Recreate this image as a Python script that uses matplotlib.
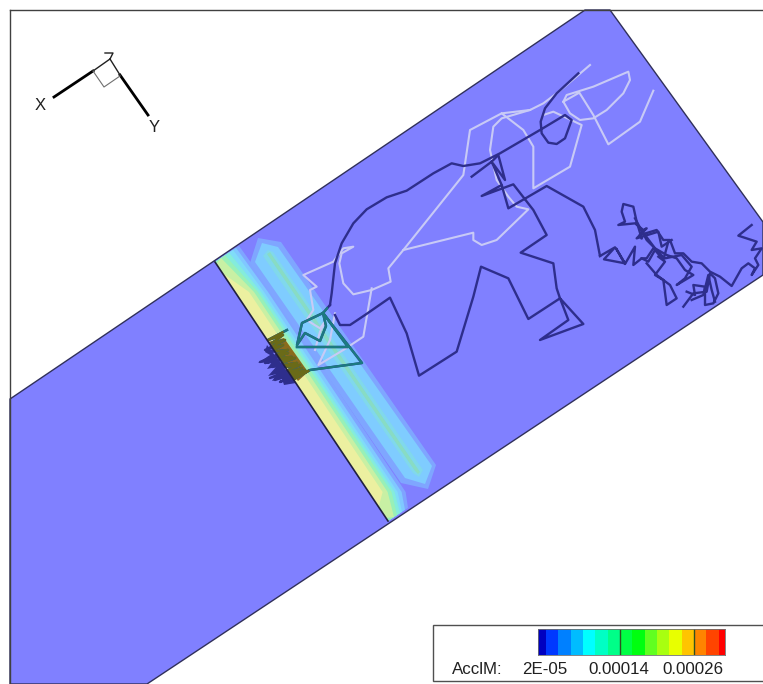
import numpy as np
import matplotlib
matplotlib.use('Agg')
import matplotlib.pyplot as plt
from matplotlib.colors import ListedColormap, BoundaryNorm
from matplotlib.patches import Polygon

# all traced shapes are in picture pixels (y down)
plate = [(10,399),(585,10),(610,10),(763,222),(763,275),(147,684),(10,684)]

# colour bands next to the black cut line
band_colors = ['#7fa4ff','#80c8ff','#80dcf8','#84ecdc','#98f0b8','#c8f0a4','#ecf0a0']
band_mid = [37,33,29,26,23,19,14]
band_top = [24,21,18,14,10,6,0]
band_bot = [20,17,14,12,9,6,0]
band_ys = [262,262,262,262,262,264,273]
band_ye = [521,521,521,521,521,518,507]

hex_outer = [(250,263),(258,238),(281,242),(436,465),(428,489),(401,483)]
hex_inner = [(255,262),(262,243),(278,247),(432,466),(425,484),(405,478)]
hex_core = [(263,256),(268,250),(273,252),(423,470),(419,477),(413,473)]
hex_mid = [(267,254),(270,252),(272,255),(420,472),(418,474),(415,471)]

brown = [(268,342),(284,338),(308,372),(298,381)]
blob = [(267,345),(265,352),(270,355),(258,363),(272,362),(267,369),(276,367),(268,376),(277,374),(272,381),(282,379),(284,385),(296,383)]

# dark trajectory, crop coordinates of the 3x zooms
dark_a = [(835,70),(770,130),(735,175),(722,215),(725,250),(745,278),(770,282),(795,265),(815,210),(795,195),(720,240),(660,275),(600,310),(540,340),(490,348),(455,340),(400,370),(320,422),(260,442),(200,478),(160,520),(125,580),(105,640),(95,730),(90,765)]
dark_b = [(105,795),(120,825),(150,825),(195,795),(270,743),(320,850),(357,977),(470,905),(520,740),(543,650),(625,685),(685,807),(780,745),(805,810),(720,870),(850,822),(780,745),(770,715),(760,640),(662,608),(740,555),(700,480),(640,403),(545,438),(605,405),(625,475),(740,408),(850,470),(885,540),(900,618)]
dark_c = [(515,380),(575,335),(595,315),(615,390),(575,335),(605,405)]
# in pixels, around the cut
dark_d = [(330,305),(323,313),(302,323),(297,345),(305,333),(320,341),(326,326),(323,313),(348,347),(297,347)]
dark_e = [(323,313),(362,363),(310,370),(287,383),(308,371),(280,382),(305,370),(275,380),(302,368),(270,378),(300,365),(277,368),(297,363),(272,367),(295,358),(265,363),(292,357),(268,358),(288,353),(260,362),(288,350),(270,352),(283,345),(265,350),(285,340),(272,343),(283,335),(268,340),(287,330)]

# right hand cluster, crop at (600,190)
dark_f = [(0,198),(45,172),(12,208),(75,220),(48,175),(75,222),(105,170),(100,225),(125,205),(145,215),(165,180),(190,210),(205,155)]
dark_g = [(125,145),(110,95),(100,50),(70,42),(65,65),(75,95),(55,105),(105,100),(130,120),(140,115),(110,145),(175,125),(185,170),(215,150)]
dark_h = [(105,85),(140,150),(180,190)]
# crop at (640,225)
dark_k = [(0,30),(50,15),(70,45),(90,45),(105,85),(130,85),(155,110),(185,115),(210,140),(240,155),(275,183),(305,130),(325,115),(345,130),(335,150),(355,120),(345,100),(365,70),(335,75),(350,50),(295,32),(335,0)]
dark_l = [(5,100),(20,100),(40,70),(75,100),(125,90),(155,125),(135,160),(110,180),(160,150),(135,135),(110,100),(80,90),(45,70),(0,10)]
dark_m = [(20,115),(50,150),(70,165),(80,240),(110,220),(90,180),(70,165),(45,150),(75,110),(55,95)]
dark_n = [(130,245),(160,205),(200,200),(210,145),(225,160),(235,205),(220,235),(195,240),(195,190),(205,150),(215,195),(225,230)]
dark_o = [(140,200),(165,210),(160,180),(195,185),(190,210),(155,225)]

# pale trajectory
light_a = [(1060,122),(1020,215),(925,283),(880,195),(838,128),(790,155),(810,190),(840,210),(880,205),(920,180),(970,130),(990,90),(985,65),(880,110),(800,135),(790,155)]
light_b = [(870,45),(800,105),(770,130),(730,160),(690,180),(605,190),(510,240),(490,375),(310,600),(265,655),(272,695),(215,720),(160,733),(130,700),(118,640),(125,610),(160,590),(130,595),(100,635),(10,675),(50,710),(30,720),(40,780),(20,810),(60,835),(75,815),(60,845),(45,900)]
light_c = [(605,190),(670,240),(700,290),(700,415),(810,350),(845,225),(760,185),(730,195)]
light_d = [(690,180),(605,205),(580,230),(570,300),(590,390),(625,440),(650,470),(685,478),(590,570),(545,585),(520,570),(520,548),(310,600)]
light_e = [(215,715),(190,860),(130,900),(55,945),(90,870),(105,790)]

tri_x_thick = [(54,97),(93,71)]
tri_x_thin = [(93,71),(110,59)]
tri_y_thin = [(110,59),(120,75)]
tri_y_thick = [(120,75),(148,115)]
tri_box = [(93,71),(104,87),(120,76)]
tri_z = [(105,53),(113,53),(110,59)]

levels = [0.000007,0.00002,0.00004,0.00006,0.00008,0.0001,0.00012,0.00014,0.00016,0.00018,0.0002,0.00022,0.00024,0.00026,0.00028,0.0003,0.00031]
level_colors = ['#0000c0','#0038ff','#0080ff','#00bcff','#00ffff','#00ffc4','#00ff88','#00ff44','#00ff10','#60ff20','#a8ff10','#e8ff00','#ffc400','#ff8400','#ff4400','#ff0000']
marked = [0.00014,0.00026]


def crop(pts, x0, y0):
    return [(x0+x/3, y0+y/3) for x, y in pts]


def path(ax, pts, color, lw=1.7, clip=None):
    xs, ys = zip(*pts)
    ln, = ax.plot(xs, ys, color=color, lw=lw, solid_joinstyle='round', zorder=5)
    if clip is not None:
        ln.set_clip_path(clip)
        ln.set_zorder(6)
    return ln


def band_poly(i):
    # right side of a band, closed along the cut line
    ax0, ay0, bx0, by0 = 215, 262, 388, 521
    def on_line(y):
        return ax0+(y-ay0)*(bx0-ax0)/(by0-ay0), y
    if band_top[i] > 0:
        top = (ax0+band_top[i], ay0-0.676*band_top[i])
        bot = (bx0+band_bot[i], by0-0.656*band_bot[i])
    else:
        top = on_line(band_ys[i])
        bot = on_line(band_ye[i])
    sx, sy = on_line(292)
    ex, ey = on_line(492)
    return [on_line(band_ys[i]), top, (sx+band_mid[i], sy), (ex+band_mid[i], ey), bot, on_line(band_ye[i])]


plt.rcParams['font.family'] = ['Liberation Sans', 'DejaVu Sans']
fig = plt.figure(figsize=(7.63, 6.84), dpi=100)
ax = fig.add_axes([0, 0, 1, 1])
ax.set_xlim(0, 763)
ax.set_ylim(684, 0)
ax.axis('off')

ax.add_patch(Polygon(plate, closed=True, fc='#8080ff', ec='#30305a', lw=1, zorder=1))
for i in range(len(band_colors)):
    ax.add_patch(Polygon(band_poly(i), closed=True, fc=band_colors[i], ec='none', zorder=2))
ax.add_patch(Polygon(hex_outer, closed=True, fc='#7fa6ff', ec='none', zorder=2))
ax.add_patch(Polygon(hex_inner, closed=True, fc='#7fccff', ec='none', zorder=2))
ax.add_patch(Polygon(hex_core, closed=True, fc='#80d8ec', ec='none', zorder=2))
ax.add_patch(Polygon(hex_mid, closed=True, fc='#88dcc4', ec='none', zorder=2))
ax.add_patch(Polygon(brown, closed=True, fc='#8a6c1c', ec='none', zorder=3))
ax.add_patch(Polygon(blob, closed=True, fc='#2e2e8c', ec='none', zorder=4))

# pale lines
for pts in [light_a, light_b, light_c, light_d, light_e]:
    path(ax, crop(pts, 300, 50), '#c8caf6', lw=1.5)

# dark lines, retinted over the coloured strip
teal_clip = Polygon([(215,262),(283,242),(436,465),(388,521)], closed=True, transform=ax.transData)
olive_clip = Polygon([(215,262),(230,252),(403,510),(388,521)], closed=True, transform=ax.transData)
dark_lines = [crop(dark_a, 300, 50), crop(dark_b, 300, 50), crop(dark_c, 300, 50), dark_d, dark_e]
dark_lines += [crop(p, 600, 190) for p in [dark_f, dark_g, dark_h]]
dark_lines += [crop(p, 640, 225) for p in [dark_k, dark_l, dark_m, dark_n, dark_o]]
for pts in dark_lines:
    path(ax, pts, '#2e2e8c')
for pts in [dark_d, dark_e]:
    path(ax, pts, '#1c7a80', clip=teal_clip)
    path(ax, pts, '#6a6a18', clip=olive_clip).set_zorder(7)

ax.plot([215, 388], [262, 521], color='#202040', lw=1.2, zorder=8)

# frame
ax.plot([10, 10], [10, 684], color='#404040', lw=1, zorder=9)
ax.plot([10, 763], [10, 10], color='#404040', lw=1, zorder=9)

# axis triad
for seg, lw, col in [(tri_x_thick, 2, 'black'), (tri_y_thick, 2, 'black'), (tri_x_thin, 1, '#202020'),
                     (tri_y_thin, 1, '#202020'), (tri_box, 0.8, '#707070'), (tri_z, 1, '#202020')]:
    xs, ys = zip(*seg)
    ax.plot(xs, ys, color=col, lw=lw, zorder=9)
ax.text(40, 105, 'X', fontsize=12, ha='center', va='center', color='#202020')
ax.text(154, 127, 'Y', fontsize=12, ha='center', va='center', color='#202020')

# legend box
ax.add_patch(plt.Rectangle((433, 625), 340, 55.5, fc='white', ec='#505050', lw=1, zorder=10))
ax.text(452, 670, 'AcclM:', fontsize=12.2, ha='left', va='center', color='#202020', zorder=11)
ax.text(545, 670, '2E-05', fontsize=12.2, ha='center', va='center', color='#202020', zorder=11)
ax.text(619, 670, '0.00014', fontsize=12.2, ha='center', va='center', color='#202020', zorder=11)
ax.text(693, 670, '0.00026', fontsize=12.2, ha='center', va='center', color='#202020', zorder=11)

cax = fig.add_axes([538/763, 1-655/684, 187/763, 26/684], zorder=20)
cmap = ListedColormap(level_colors)
norm = BoundaryNorm(levels, cmap.N)
mids = np.array([(levels[i]+levels[i+1])/2 for i in range(len(levels)-1)])
cax.pcolormesh(levels, [0, 1], mids[np.newaxis, :], cmap=cmap, norm=norm)
for v in marked:
    cax.axvline(v, color='#305020', lw=1)
cax.set_xticks([])
cax.set_yticks([])
for s in cax.spines.values():
    s.set_color('#707070')
    s.set_linewidth(0.6)

fig.savefig('out.png', dpi=100)
